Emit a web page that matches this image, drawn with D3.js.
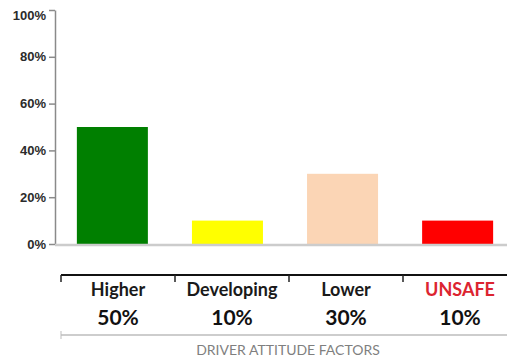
<!DOCTYPE html>
<html>
<head>
<meta charset="utf-8">
<script src="https://cdn.jsdelivr.net/npm/d3@7"></script>
<style>
  body { margin: 0; background: #fff; }
  svg { display: block; font-family: Lato, "Open Sans", sans-serif; }
  .y-axis text { font-size: 13px; font-weight: 700; fill: #2b2b2b; }
  .y-axis line, .y-axis path { stroke: #8a8a8a; stroke-width: 1.5; }
  .cat-label { font-size: 18px; font-weight: 700; fill: #1a1a1a; }
  .pct-label { font-size: 21px; font-weight: 700; fill: #111; }
  .axis-title { font-size: 14px; fill: #7f7f7f; }
</style>
</head>
<body>
<svg id="chart"></svg>
<script>
const categories = ["Higher", "Developing", "Lower", "UNSAFE"];
const values = [50, 10, 30, 10];
const barColors = ["#007f00", "#ffff00", "#fbd5b5", "#ff0000"];
const labelColors = ["#1a1a1a", "#1a1a1a", "#1a1a1a", "#dc2430"];
const yTicks = [0, 20, 40, 60, 80, 100];
const xTitle = "DRIVER ATTITUDE FACTORS";

const width = 507, height = 358;

const svg = d3.select('#chart')
    .attr('width', width)
    .attr('height', height);

// bar area
const xScale = d3.scaleBand()
    .domain(categories)
    .range([55, 515])
    .paddingInner(0.383)
    .paddingOuter(0.19);

const yScale = d3.scaleLinear()
    .domain([0, 100])
    .range([244, 10]);

const yAxis = d3.axisLeft(yScale)
    .tickValues(yTicks)
    .tickFormat(d => d + '%')
    .tickSize(6)
    .tickSizeOuter(0)
    .tickPadding(3);

const yAxisG = svg.append('g')
    .attr('class', 'axis y-axis')
    .attr('transform', 'translate(55,0)')
    .call(yAxis);

// top label sits a bit lower like the original
yAxisG.selectAll('.tick')
    .filter(d => d === 100)
    .select('text')
    .attr('dy', '0.75em');

yAxisG.selectAll('.tick')
    .filter(d => d === 0)
    .select('line')
    .attr('stroke', '#222');

svg.selectAll('.bar')
    .data(values)
    .join('rect')
    .attr('class', 'bar')
    .attr('x', (d, i) => xScale(categories[i]))
    .attr('y', d => yScale(d))
    .attr('width', xScale.bandwidth())
    .attr('height', d => yScale(0) - yScale(d))
    .attr('fill', (d, i) => barColors[i]);

// baseline
svg.append('line')
    .attr('x1', 55)
    .attr('x2', width)
    .attr('y1', yScale(0) + 1)
    .attr('y2', yScale(0) + 1)
    .attr('stroke', '#cccccc')
    .attr('stroke-width', 2.5);

// table underneath
const tableScale = d3.scaleBand()
    .domain(categories)
    .range([61, 517]);

const tableTop = 275;

svg.append('line')
    .attr('x1', tableScale.range()[0])
    .attr('x2', width)
    .attr('y1', tableTop)
    .attr('y2', tableTop)
    .attr('stroke', '#111')
    .attr('stroke-width', 2);

svg.selectAll('.cell-tick')
    .data(categories)
    .join('line')
    .attr('class', 'cell-tick')
    .attr('x1', d => tableScale(d))
    .attr('x2', d => tableScale(d))
    .attr('y1', tableTop)
    .attr('y2', tableTop + 7)
    .attr('stroke', '#222')
    .attr('stroke-width', 1.5);

svg.selectAll('.cat-label')
    .data(categories)
    .join('text')
    .attr('class', 'cat-label')
    .attr('x', d => tableScale(d) + tableScale.bandwidth() / 2)
    .attr('y', 296)
    .attr('text-anchor', 'middle')
    .attr('fill', (d, i) => labelColors[i])
    .style('fill', (d, i) => labelColors[i])
    .text(d => d);

svg.selectAll('.pct-label')
    .data(values)
    .join('text')
    .attr('class', 'pct-label')
    .attr('x', (d, i) => tableScale(categories[i]) + tableScale.bandwidth() / 2)
    .attr('y', 325)
    .attr('text-anchor', 'middle')
    .text(d => d + '%');

// lower rule + title
svg.append('line')
    .attr('x1', tableScale.range()[0])
    .attr('x2', width)
    .attr('y1', 335)
    .attr('y2', 335)
    .attr('stroke', '#bdbdbd')
    .attr('stroke-width', 1.5);

svg.append('line')
    .attr('x1', tableScale.range()[0])
    .attr('x2', tableScale.range()[0])
    .attr('y1', 331)
    .attr('y2', 339)
    .attr('stroke', '#bdbdbd')
    .attr('stroke-width', 1);

svg.append('text')
    .attr('class', 'axis-title')
    .attr('x', 288)
    .attr('y', 355)
    .attr('text-anchor', 'middle')
    .text(xTitle);
</script>
</body>
</html>
